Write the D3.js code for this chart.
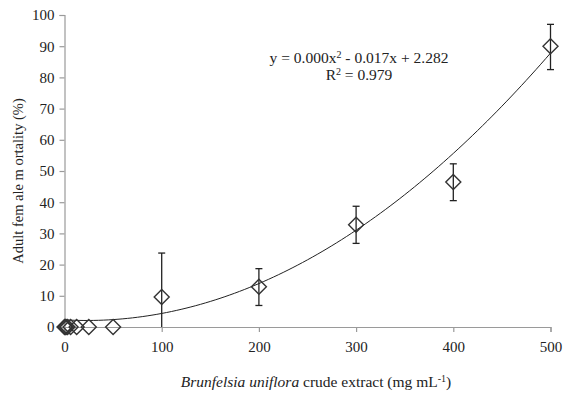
<!DOCTYPE html>
<html>
<head>
<meta charset="utf-8">
<script src="https://cdn.jsdelivr.net/npm/d3@7"></script>
<style>
  body { margin: 0; background: #fff; }
  text { font-family: "Times New Roman", "Liberation Serif", Times, serif; fill: #222; }
</style>
</head>
<body>
<div id="chart"></div>
<script>
// data
var conc = [0, 0.78, 1.56, 3.125, 6.25, 12.5, 25, 50, 100, 200, 300, 400, 500];
var mortality = [0, 0, 0, 0, 0, 0, 0, 0, 9.6, 12.9, 32.8, 46.5, 90];
var err_low = [0, 0, 0, 0, 0, 0, 0, 0, 9.6, 6.0, 6.0, 6.0, 7.5];
var err_high = [0, 0, 0, 0, 0, 0, 0, 0, 14.1, 5.8, 5.9, 5.8, 7.0];
var x_ticks = [0, 100, 200, 300, 400, 500];
var y_ticks = [0, 10, 20, 30, 40, 50, 60, 70, 80, 90, 100];
// trendline coefficients (quadratic)
var trend_a = 0.000376, trend_b = -0.017, trend_c = 2.282;

var chart_width = 577;
var chart_height = 394;
var serif = '"Times New Roman", "Liberation Serif", Times, serif';

var svg = d3.select("#chart")
            .append("svg")
            .attr("width", chart_width)
            .attr("height", chart_height)
            .style("font-family", serif);

var x = d3.scaleLinear().domain([0, 500]).range([64.5, 550.5]);
var y = d3.scaleLinear().domain([0, 100]).range([327, 15]);

// axes
var xAxis = svg.append("g")
    .attr("transform", "translate(0," + y(0) + ")")
    .call(d3.axisBottom(x).tickValues(x_ticks).tickSize(5).tickPadding(9));
var yAxis = svg.append("g")
    .attr("transform", "translate(" + x(0) + ",0)")
    .call(d3.axisLeft(y).tickValues(y_ticks).tickSize(5).tickPadding(5));

[xAxis, yAxis].forEach(function(ax) {
    ax.attr("font-family", serif).attr("font-size", 15);
    ax.select(".domain").attr("stroke", "#9a9a9a").attr("stroke-width", 1.2);
    ax.selectAll(".tick line").attr("stroke", "#9a9a9a").attr("stroke-width", 1.2);
    ax.selectAll(".tick text")
        .style("font-family", serif)
        .style("font-size", "15px")
        .attr("fill", "#222");
});

// trendline
var curve_x = d3.range(0, 501, 5);
var line = d3.line()
    .x(function(d) { return x(d); })
    .y(function(d) { return y(trend_a * d * d + trend_b * d + trend_c); });
svg.append("path")
    .datum(curve_x)
    .attr("d", line)
    .attr("fill", "none")
    .attr("stroke", "#222")
    .attr("stroke-width", 1);

var points = conc.map(function(c, i) {
    return { x: c, y: mortality[i], lo: mortality[i] - err_low[i], hi: mortality[i] + err_high[i] };
});

// error bars
var eb = svg.append("g").selectAll("g")
    .data(points.filter(function(d) { return d.hi > d.lo; }))
    .enter().append("g")
    .attr("stroke", "#222")
    .attr("stroke-width", 1.3);
eb.append("line")
    .attr("x1", function(d) { return x(d.x); })
    .attr("x2", function(d) { return x(d.x); })
    .attr("y1", function(d) { return y(d.lo); })
    .attr("y2", function(d) { return y(d.hi); });
eb.append("line")
    .attr("x1", function(d) { return x(d.x) - 3.5; })
    .attr("x2", function(d) { return x(d.x) + 3.5; })
    .attr("y1", function(d) { return y(d.hi); })
    .attr("y2", function(d) { return y(d.hi); });
eb.append("line")
    .attr("x1", function(d) { return x(d.x) - 3.5; })
    .attr("x2", function(d) { return x(d.x) + 3.5; })
    .attr("y1", function(d) { return y(d.lo); })
    .attr("y2", function(d) { return y(d.lo); })
    .attr("display", function(d) { return d.lo > 0 ? null : "none"; });

// diamond markers
var r = 7.5;
svg.append("g").selectAll("path")
    .data(points)
    .enter().append("path")
    .attr("d", function(d) {
        var cx = x(d.x), cy = y(d.y);
        return "M" + cx + "," + (cy - r) + "L" + (cx + r) + "," + cy +
               "L" + cx + "," + (cy + r) + "L" + (cx - r) + "," + cy + "Z";
    })
    .attr("fill", "none")
    .attr("stroke", "#333")
    .attr("stroke-width", 1.4);

// equation
var eq = svg.append("text")
    .attr("x", 359).attr("y", 63)
    .attr("text-anchor", "middle")
    .style("font-size", "15.5px");
eq.append("tspan").text("y = 0.000x");
eq.append("tspan").attr("dy", -5).style("font-size", "10px").text("2");
eq.append("tspan").attr("dy", 5).text(" - 0.017x + 2.282");

var r2 = svg.append("text")
    .attr("x", 359).attr("y", 80)
    .attr("text-anchor", "middle")
    .style("font-size", "15.5px");
r2.append("tspan").text("R");
r2.append("tspan").attr("dy", -5).style("font-size", "10px").text("2");
r2.append("tspan").attr("dy", 5).text(" = 0.979");

// axis titles
svg.append("text")
    .attr("transform", "translate(23,181) rotate(-90)")
    .attr("text-anchor", "middle")
    .style("font-size", "14.5px")
    .text("Adult fem ale m ortality (%)");

var xt = svg.append("text")
    .attr("x", 316).attr("y", 387)
    .attr("text-anchor", "middle")
    .style("font-size", "15.5px");
xt.append("tspan").style("font-style", "italic").text("Brunfelsia uniflora");
xt.append("tspan").text(" crude extract (mg mL");
xt.append("tspan").attr("dy", -5).style("font-size", "10px").text("-1");
xt.append("tspan").attr("dy", 5).text(")");
</script>
</body>
</html>
